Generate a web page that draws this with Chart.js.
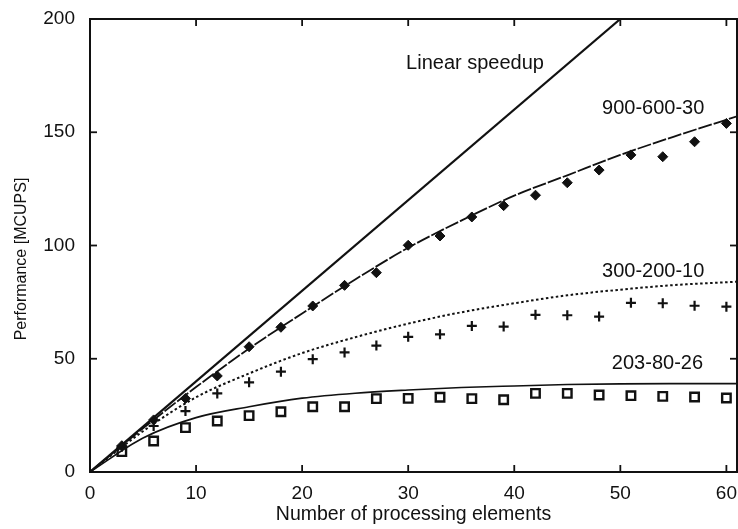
<!DOCTYPE html>
<html>
<head>
<meta charset="utf-8">
<script src="https://cdn.jsdelivr.net/npm/chart.js@4.4.0/dist/chart.umd.min.js"></script>
<style>
  html, body { margin: 0; padding: 0; background: #fff; }
  #chart { width: 738px; height: 529px; }
</style>
</head>
<body>
<div id="chart"><canvas id="perf" width="738" height="529"></canvas></div>
<script>
// measured points: number of PEs vs MCUPS
const peCount = [3, 6, 9, 12, 15, 18, 21, 24, 27, 30, 33, 36, 39, 42, 45, 48, 51, 54, 57, 60];
const perf900 = [11.6, 23.0, 32.5, 42.4, 55.3, 63.9, 73.3, 82.4, 88.0, 100.1, 104.2, 112.6, 117.6, 122.2, 127.7, 133.3, 140.0, 139.2, 145.8, 153.9];
const perf300 = [11.2, 20.3, 26.9, 34.7, 39.6, 44.3, 49.8, 52.8, 55.8, 59.7, 60.8, 64.5, 64.2, 69.4, 69.2, 68.6, 74.7, 74.5, 73.4, 73.0];
const perf203 = [9.0, 13.7, 19.6, 22.5, 24.9, 26.6, 28.8, 28.8, 32.4, 32.5, 33.0, 32.4, 31.9, 34.7, 34.7, 34.0, 33.7, 33.4, 33.1, 32.7];

// model curves
const curveX = [0, 5, 10, 15, 20, 25, 30, 35, 40, 45, 50, 55, 61];
const fit900 = [0, 19.3, 37.5, 54.5, 70, 85, 99, 111, 122, 131, 140, 148, 157];
const fit300 = [0, 18, 33, 43.5, 52.5, 59.5, 65.5, 70.5, 74.5, 78, 80.5, 82.5, 84];
const fit203 = [0, 15, 24, 28.8, 32.6, 34.8, 36.2, 37.3, 38, 38.6, 38.9, 39, 39];

const linearX = [0, 50];
const linearY = [0, 200];

const xTicks = [0, 10, 20, 30, 40, 50, 60];
const yTicks = [0, 50, 100, 150, 200];

const curveNames = ["Linear speedup", "900-600-30", "300-200-10", "203-80-26"];

const ink = "#111";
const fontFam = '"Liberation Sans", Arial, Helvetica, sans-serif';

const pts = (xs, ys) => xs.map((x, i) => ({ x: x, y: ys[i] }));

// text labels next to the curves, anchored in data units
const labelSpots = [
  { text: curveNames[0], x: 36.3, y: 180.5 },
  { text: curveNames[1], x: 53.1, y: 160.3 },
  { text: curveNames[2], x: 53.1, y: 88.7 },
  { text: curveNames[3], x: 53.5, y: 48.1 },
];

const frameTicks = {
  id: "frameTicks",
  afterDatasetsDraw(chart) {
    const { ctx, chartArea: a, scales } = chart;
    const line = (x1, y1, x2, y2) => {
      ctx.beginPath();
      ctx.moveTo(x1, y1);
      ctx.lineTo(x2, y2);
      ctx.stroke();
    };
    ctx.save();
    ctx.strokeStyle = ink;
    ctx.lineWidth = 2;
    ctx.strokeRect(a.left, a.top, a.right - a.left, a.bottom - a.top);
    ctx.lineWidth = 1.8;
    xTicks.forEach((v) => {
      const px = scales.x.getPixelForValue(v);
      line(px, a.bottom, px, a.bottom - 7);
      line(px, a.top, px, a.top + 7);
    });
    yTicks.forEach((v) => {
      const py = scales.y.getPixelForValue(v);
      line(a.left, py, a.left + 7, py);
      line(a.right, py, a.right - 7, py);
    });

    // curve names
    ctx.fillStyle = ink;
    ctx.font = "20px " + fontFam;
    ctx.textAlign = "center";
    ctx.textBaseline = "middle";
    labelSpots.forEach((l) => {
      ctx.fillText(l.text, scales.x.getPixelForValue(l.x), scales.y.getPixelForValue(l.y));
    });

    // y axis title
    ctx.font = "16px " + fontFam;
    ctx.translate(22, 259);
    ctx.rotate(-Math.PI / 2);
    ctx.fillText("Performance [MCUPS]", 0, 0);
    ctx.restore();
  },
};

new Chart(document.getElementById("perf"), {
  type: "line",
  data: {
    datasets: [
      {
        label: curveNames[0],
        data: pts(linearX, linearY),
        borderColor: ink,
        borderWidth: 2.2,
        pointRadius: 0,
      },
      {
        label: curveNames[1] + " fit",
        data: pts(curveX, fit900),
        borderColor: ink,
        borderWidth: 1.8,
        borderDash: [14, 2],
        pointRadius: 0,
        cubicInterpolationMode: "monotone",
      },
      {
        label: curveNames[2] + " fit",
        data: pts(curveX, fit300),
        borderColor: ink,
        borderWidth: 2,
        borderDash: [2.5, 2.5],
        pointRadius: 0,
        cubicInterpolationMode: "monotone",
      },
      {
        label: curveNames[3] + " fit",
        data: pts(curveX, fit203),
        borderColor: ink,
        borderWidth: 1.6,
        pointRadius: 0,
        cubicInterpolationMode: "monotone",
      },
      {
        label: curveNames[1],
        data: pts(peCount, perf900),
        showLine: false,
        pointStyle: "rectRot",
        pointRadius: 5,
        pointBackgroundColor: ink,
        pointBorderColor: ink,
        pointBorderWidth: 1,
      },
      {
        label: curveNames[2],
        data: pts(peCount, perf300),
        showLine: false,
        pointStyle: "cross",
        pointRadius: 5,
        pointBorderColor: ink,
        pointBorderWidth: 2.2,
      },
      {
        label: curveNames[3],
        data: pts(peCount, perf203),
        showLine: false,
        pointStyle: "rect",
        pointRadius: 6,
        pointBackgroundColor: "#fff",
        pointBorderColor: ink,
        pointBorderWidth: 2.4,
      },
    ],
  },
  options: {
    responsive: false,
    animation: false,
    layout: { autoPadding: false, padding: { top: 19, right: 1, left: 0, bottom: 0 } },
    plugins: {
      legend: { display: false },
      tooltip: { enabled: false },
    },
    scales: {
      x: {
        type: "linear",
        min: 0,
        max: 61,
        afterFit: (s) => {
          s.height = 57;
          s.paddingLeft = 0;
          s.paddingRight = 0;
        },
        afterBuildTicks: (s) => { s.ticks = xTicks.map((v) => ({ value: v })); },
        grid: { display: false, drawTicks: false },
        border: { display: false },
        ticks: {
          color: ink,
          padding: 10,
          maxRotation: 0,
          font: { size: 19, family: fontFam },
        },
        title: {
          display: true,
          text: "Number of processing elements",
          color: ink,
          padding: { top: 0, bottom: 3 },
          font: { size: 19.5, family: fontFam },
        },
      },
      y: {
        min: 0,
        max: 200,
        afterFit: (s) => {
          s.width = 90;
          s.paddingTop = 0;
          s.paddingBottom = 0;
        },
        afterBuildTicks: (s) => { s.ticks = yTicks.map((v) => ({ value: v })); },
        grid: { display: false, drawTicks: false },
        border: { display: false },
        ticks: {
          color: ink,
          padding: 15,
          font: { size: 19, family: fontFam },
        },
      },
    },
  },
  plugins: [frameTicks],
});
</script>
</body>
</html>
